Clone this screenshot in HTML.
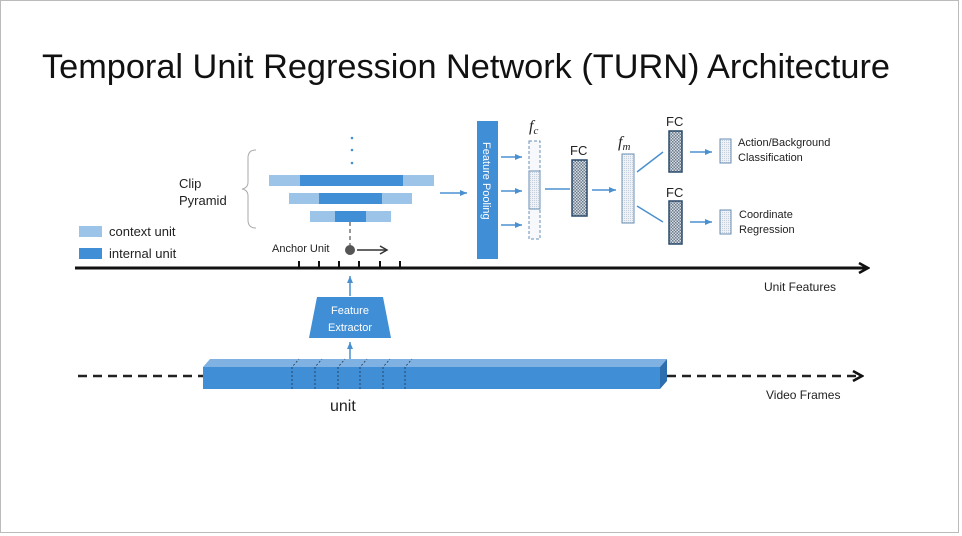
<!DOCTYPE html>
<html><head><meta charset="utf-8"><style>
html,body{margin:0;padding:0;background:#fff;}
svg{display:block;font-family:"Liberation Sans",sans-serif;}
</style></head><body>
<svg width="962" height="536" viewBox="0 0 962 536" xmlns="http://www.w3.org/2000/svg">
<defs>
<pattern id="hatch" width="3" height="3" patternUnits="userSpaceOnUse"><rect width="3" height="3" fill="#d8dde3"/><rect width="1.5" height="1.5" fill="#6b7c8c"/><rect x="1.5" y="1.5" width="1.5" height="1.5" fill="#6b7c8c"/></pattern>
<pattern id="dots" width="2" height="2" patternUnits="userSpaceOnUse"><rect width="2" height="2" fill="#eef2f7"/><rect width="1" height="1" fill="#c5d0dc"/></pattern>
<marker id="ab" markerWidth="8" markerHeight="8" refX="7" refY="4" orient="auto" markerUnits="userSpaceOnUse"><path d="M0,1 L7,4 L0,7 z" fill="#4a90d0"/></marker>
<marker id="ak" markerWidth="12" markerHeight="12" refX="10" refY="6" orient="auto" markerUnits="userSpaceOnUse"><path d="M1,1 L10,6 L1,11" fill="none" stroke="#111" stroke-width="2.5"/></marker>
<marker id="ak2" markerWidth="10" markerHeight="10" refX="8" refY="5" orient="auto" markerUnits="userSpaceOnUse"><path d="M1,1 L8,5 L1,9" fill="none" stroke="#333" stroke-width="1.5"/></marker>
</defs>
<rect x="0.5" y="0.5" width="958" height="532" fill="#fff" stroke="#bbb"/>
<text x="42" y="78" font-size="34" textLength="848" lengthAdjust="spacingAndGlyphs" fill="#111">Temporal Unit Regression Network (TURN) Architecture</text>

<!-- dots -->
<circle cx="352" cy="138" r="1.3" fill="#4a90d0"/><circle cx="352" cy="150" r="1.3" fill="#4a90d0"/><circle cx="352" cy="163" r="1.3" fill="#4a90d0"/>
<!-- pyramid -->
<rect x="269" y="175" width="165" height="11" fill="#9cc3e8"/><rect x="300" y="175" width="103" height="11" fill="#3f8ed6"/>
<rect x="289" y="193" width="123" height="11" fill="#9cc3e8"/><rect x="319" y="193" width="63" height="11" fill="#3f8ed6"/>
<rect x="310" y="211" width="81" height="11" fill="#9cc3e8"/><rect x="335" y="211" width="31" height="11" fill="#3f8ed6"/>
<line x1="350" y1="222" x2="350" y2="245" stroke="#777" stroke-width="1.5" stroke-dasharray="4,3"/>
<circle cx="350" cy="250" r="5" fill="#555"/>
<line x1="357" y1="250" x2="387" y2="250" stroke="#333" stroke-width="1.5" marker-end="url(#ak2)"/>
<text x="272" y="252" font-size="11" fill="#222">Anchor Unit</text>
<!-- brace -->
<path d="M256,150 Q248,150 248,158 L248,182 Q248,188 242,189 Q248,190 248,196 L248,220 Q248,228 256,228" fill="none" stroke="#aaa" stroke-width="1"/>
<text x="179" y="188" font-size="13" fill="#222">Clip</text>
<text x="179" y="205" font-size="13" fill="#222">Pyramid</text>
<rect x="79" y="226" width="23" height="11" fill="#9cc3e8"/><text x="109" y="236" font-size="13" fill="#222">context unit</text>
<rect x="79" y="248" width="23" height="11" fill="#3f8ed6"/><text x="109" y="258" font-size="13" fill="#222">internal unit</text>
<!-- axis -->
<line x1="75" y1="268" x2="868" y2="268" stroke="#111" stroke-width="3" marker-end="url(#ak)"/>
<g stroke="#111" stroke-width="2"><line x1="299" y1="261" x2="299" y2="268"/><line x1="319" y1="261" x2="319" y2="268"/><line x1="339" y1="261" x2="339" y2="268"/><line x1="359" y1="261" x2="359" y2="268"/><line x1="380" y1="261" x2="380" y2="268"/><line x1="400" y1="261" x2="400" y2="268"/></g>
<text x="764" y="291" font-size="12" fill="#222">Unit Features</text>
<!-- pooling -->
<line x1="440" y1="193" x2="467" y2="193" stroke="#4a90d0" stroke-width="1.5" marker-end="url(#ab)"/>
<rect x="477" y="121" width="21" height="138" fill="#3f8ed6"/>
<text transform="translate(483,142) rotate(90)" font-size="11" fill="#fff">Feature Pooling</text>
<g stroke="#4a90d0" stroke-width="1.5"><line x1="501" y1="157" x2="522" y2="157" marker-end="url(#ab)"/><line x1="501" y1="191" x2="522" y2="191" marker-end="url(#ab)"/><line x1="501" y1="225" x2="522" y2="225" marker-end="url(#ab)"/></g>
<rect x="529" y="141" width="11" height="98" fill="#f6f8fb" stroke="#6a8fb5" stroke-dasharray="3,2"/>
<rect x="529" y="171" width="11" height="38" fill="url(#dots)" stroke="#6a8fb5"/>
<text x="529" y="131" font-size="16" font-style="italic" font-family="Liberation Serif,serif" fill="#222">f<tspan font-size="11" dy="3">c</tspan></text>
<line x1="545" y1="189" x2="570" y2="189" stroke="#4a90d0" stroke-width="1.5"/>
<rect x="572" y="160" width="15" height="56" fill="url(#hatch)" stroke="#2a4a6a" stroke-width="1.5"/>
<text x="570" y="155" font-size="13" fill="#222">FC</text>
<line x1="592" y1="190" x2="616" y2="190" stroke="#4a90d0" stroke-width="1.5" marker-end="url(#ab)"/>
<rect x="622" y="154" width="12" height="69" fill="url(#dots)" stroke="#6a8fb5"/>
<text x="618" y="147" font-size="16" font-style="italic" font-family="Liberation Serif,serif" fill="#222">f<tspan font-size="11" dy="3">m</tspan></text>
<line x1="637" y1="172" x2="663" y2="152" stroke="#4a90d0" stroke-width="1.5"/>
<line x1="637" y1="206" x2="663" y2="222" stroke="#4a90d0" stroke-width="1.5"/>
<rect x="669" y="131" width="13" height="41" fill="url(#hatch)" stroke="#2a4a6a" stroke-width="1.5"/>
<text x="666" y="126" font-size="13" fill="#222">FC</text>
<rect x="669" y="201" width="13" height="43" fill="url(#hatch)" stroke="#2a4a6a" stroke-width="1.5"/>
<text x="666" y="197" font-size="13" fill="#222">FC</text>
<line x1="690" y1="152" x2="712" y2="152" stroke="#4a90d0" stroke-width="1.5" marker-end="url(#ab)"/>
<line x1="690" y1="222" x2="712" y2="222" stroke="#4a90d0" stroke-width="1.5" marker-end="url(#ab)"/>
<rect x="720" y="139" width="11" height="24" fill="url(#dots)" stroke="#6a8fb5"/>
<rect x="720" y="210" width="11" height="24" fill="url(#dots)" stroke="#6a8fb5"/>
<g font-size="11" fill="#222"><text x="738" y="146">Action/Background</text><text x="738" y="161">Classification</text><text x="739" y="218">Coordinate</text><text x="739" y="233">Regression</text></g>
<!-- feature extractor -->
<line x1="350" y1="296" x2="350" y2="276" stroke="#4a90d0" stroke-width="1.5" marker-end="url(#ab)"/>
<polygon points="317,297 383,297 391,338 309,338" fill="#3f8ed6"/>
<text x="350" y="314" font-size="11" fill="#fff" text-anchor="middle">Feature</text>
<text x="350" y="331" font-size="11" fill="#fff" text-anchor="middle">Extractor</text>
<line x1="350" y1="365" x2="350" y2="342" stroke="#4a90d0" stroke-width="1.5" marker-end="url(#ab)"/>
<!-- video bar -->
<line x1="78" y1="376" x2="203" y2="376" stroke="#222" stroke-width="2.5" stroke-dasharray="9,6"/>
<line x1="667" y1="376" x2="862" y2="376" stroke="#222" stroke-width="2.5" stroke-dasharray="9,6" marker-end="url(#ak)"/>
<polygon points="203,367 210,359 667,359 660,367" fill="#7fb2e3"/>
<polygon points="660,367 667,359 667,381 660,389" fill="#2d6fae"/>
<rect x="203" y="367" width="457" height="22" fill="#3f8ed6"/>
<g stroke="#234" stroke-width="0.8" stroke-dasharray="2,2" fill="none">
<path d="M292,389 L292,367 L299,359"/><path d="M315,389 L315,367 L322,359"/><path d="M338,389 L338,367 L345,359"/><path d="M360,389 L360,367 L367,359"/><path d="M383,389 L383,367 L390,359"/><path d="M405,389 L405,367 L412,359"/></g>
<text x="330" y="411" font-size="16" fill="#222">unit</text>
<text x="766" y="399" font-size="12" fill="#222">Video Frames</text>
</svg>
</body></html>
